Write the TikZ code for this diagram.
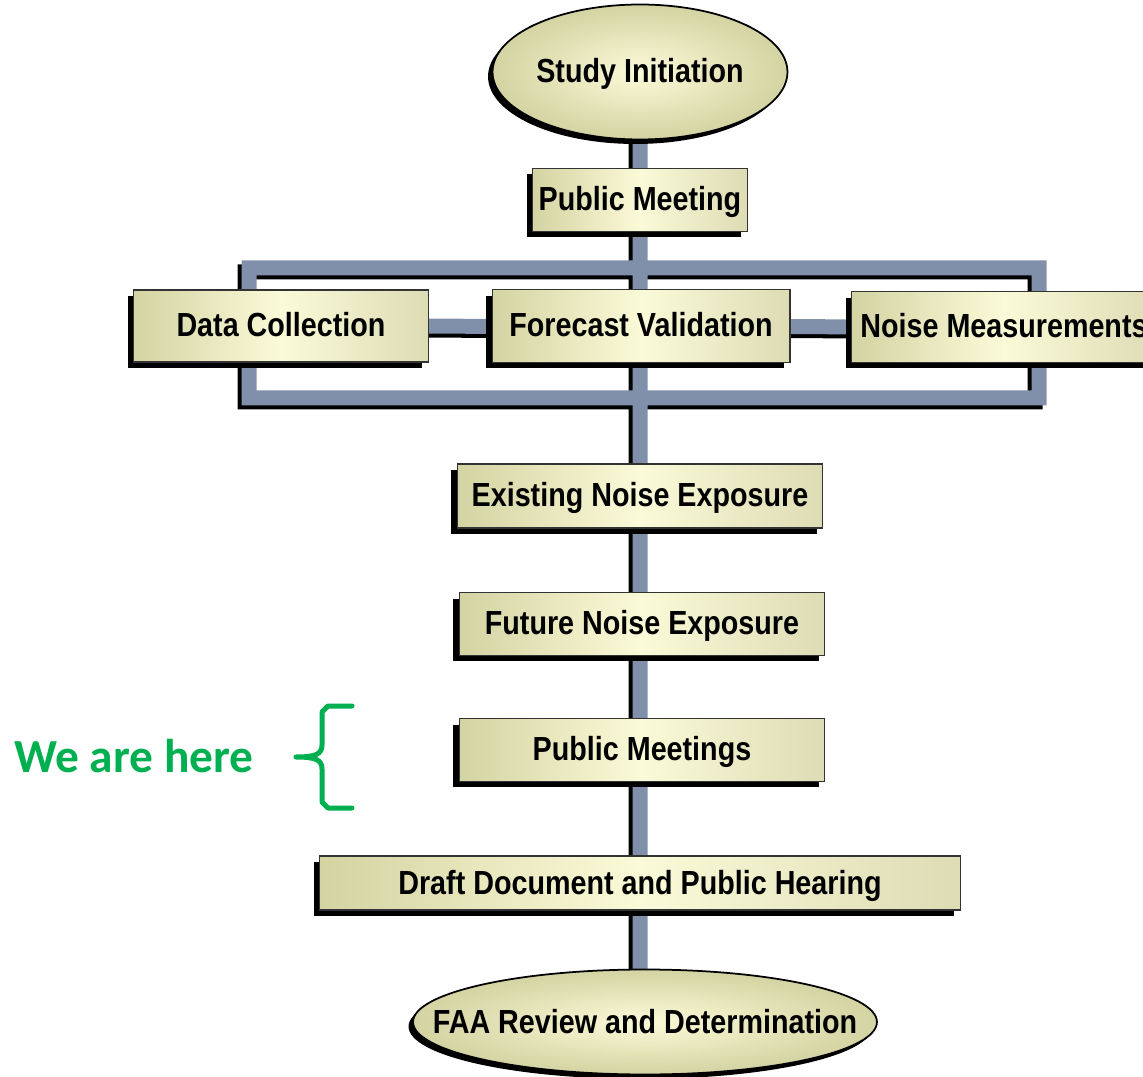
\documentclass[tikz,border=0pt]{standalone}
\usepackage{fontspec}
\newfontfamily\flowfont[FakeStretch=0.86]{Liberation Sans}
\newfontfamily\notefont{Carlito}
\usetikzlibrary{shapes.geometric, shadows, backgrounds, calc}
\definecolor{boxLight}{HTML}{FBFAD8}
\definecolor{boxEdge}{HTML}{D4D3A2}
\definecolor{linkGray}{HTML}{8190AA}
\definecolor{noteGreen}{HTML}{00B050}
\tikzset{
  flowtext/.style={font=\flowfont\bfseries\fontsize{19}{22}\selectfont, text height=0.48cm, text depth=0.04cm},
  stepbox/.style={rectangle, draw=black!80, line width=0.6pt, flowtext, inner sep=2pt,
                  left color=boxEdge, right color=boxEdge!80, middle color=boxLight,
                  drop shadow={shadow xshift=-0.12cm, shadow yshift=-0.12cm, fill=black, opacity=1}},
  endpoint/.style={ellipse, draw=black, line width=1pt, inner sep=0pt,
                   inner color=boxLight, outer color=boxEdge,
                   drop shadow={shadow xshift=-0.09cm, shadow yshift=-0.09cm, fill=black, opacity=1}},
  link/.style={line width=0.3cm, draw=linkGray},
  bracket/.style={draw=noteGreen, line width=0.1cm, line cap=round, line join=round},
}

\begin{document}
\begin{tikzpicture}[x=0.02cm, y=-0.02cm]
\useasboundingbox (0,0) rectangle (1143,1077);
% main flow
\node[endpoint, minimum width=5.9cm, minimum height=2.7cm,
      label={[flowtext]center:Study Initiation}] (init) at (640,72) {};
\node[stepbox, minimum width=4.3cm, minimum height=1.26cm] (pubmeet) at (640,200) {Public Meeting};
\node[stepbox, minimum width=5.9cm, minimum height=1.44cm] (datacol) at (281,326) {Data Collection};
\node[stepbox, minimum width=5.96cm, minimum height=1.46cm] (forecast) at (641,326) {Forecast Validation};
\node[stepbox, minimum width=6.1cm, minimum height=1.42cm] (noisemeas) at (1004,327) {Noise Measurements};
\node[stepbox, minimum width=7.32cm, minimum height=1.28cm] (existing) at (640,496) {Existing Noise Exposure};
\node[stepbox, minimum width=7.32cm, minimum height=1.26cm] (future) at (642,624) {Future Noise Exposure};
\node[stepbox, minimum width=7.32cm, minimum height=1.26cm] (meetings) at (642,750) {Public Meetings};
\node[stepbox, minimum width=12.82cm, minimum height=1.08cm] (draft) at (640,883) {Draft Document and Public Hearing};
\node[endpoint, minimum width=9.28cm, minimum height=2.1cm,
      label={[flowtext]center:FAA Review and Determination}] (review) at (645,1022) {};

% connectors behind the boxes, black copy first
\begin{scope}[on background layer]
\foreach \dx/\dy/\tone in {-4/4/black, 0/0/linkGray}
  \draw[link, draw=\tone, transform canvas={shift={(\dx,\dy)}}]
        (init.center) -- (init.center |- review.center)
        (datacol.center) -- (noisemeas.center)
        (249,268) rectangle (1039,398);
\end{scope}

% where we are
\node[font=\notefont\bfseries\fontsize{27}{32}\selectfont, text=noteGreen] (here) at (134,756) {We are here};
\draw[bracket] (352,706) -- (328,706) -- (322,712) -- (322,745)
  .. controls (322,754) and (316,757) .. (296,757)
  .. controls (316,757) and (322,760) .. (322,769)
  -- (322,802) -- (328,808) -- (352,808);
\end{tikzpicture}
\end{document}
